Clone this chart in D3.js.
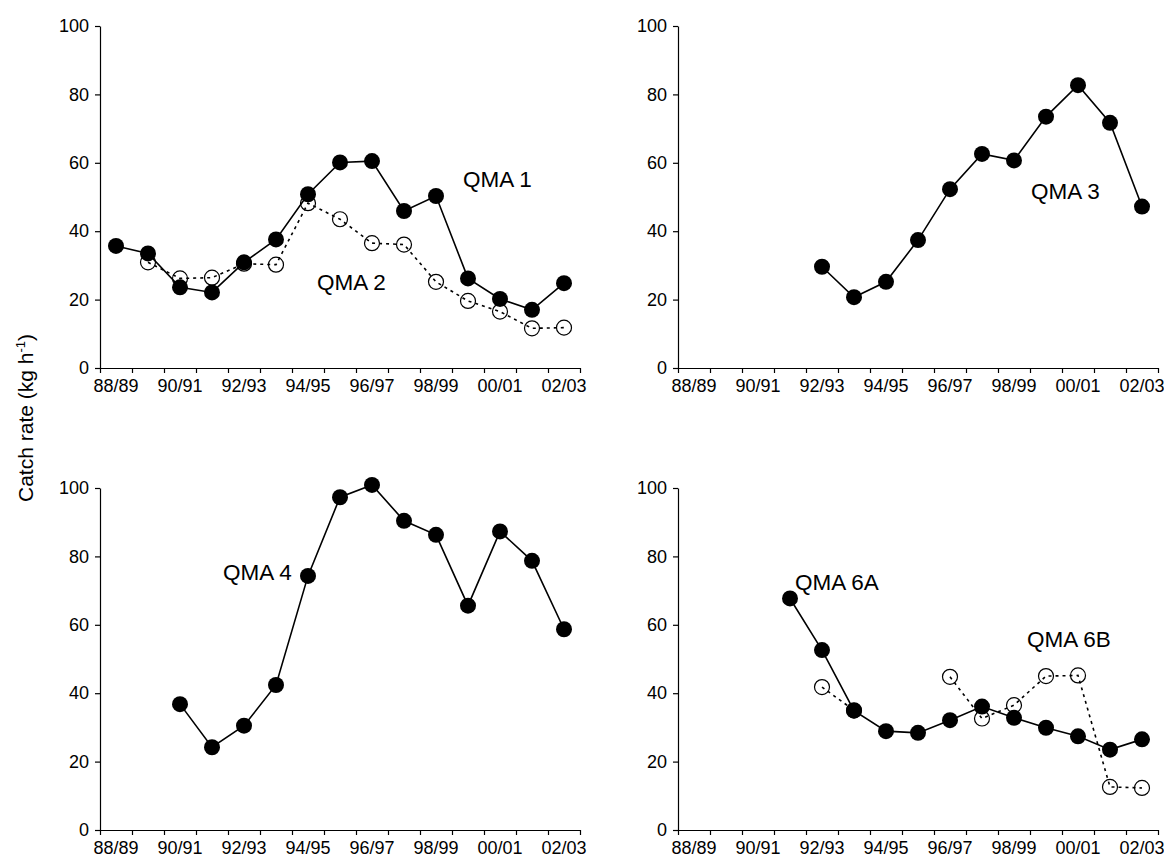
<!DOCTYPE html>
<html lang="en">
    <head>
        <title>Catch rate by QMA</title>
        <script src="https://d3js.org/d3.v7.min.js"></script>
        <style>
            body { margin: 0; background: #fff; }
            text { font-family: "Liberation Sans", Arial, sans-serif; fill: #000; }
        </style>
    </head>
    <body>
    <div id="mainDiv"></div>

        <script type="text/javascript">
            const seasons = ['88/89', '89/90', '90/91', '91/92', '92/93', '93/94', '94/95', '95/96',
                '96/97', '97/98', '98/99', '99/00', '00/01', '01/02', '02/03']
            const yTicks = [0, 20, 40, 60, 80, 100]

            const qma1 = [35.7, 33.5, 23.6, 22.1, 30.9, 37.6, 50.8, 60.1, 60.5, 45.9, 50.3, 26.2, 20.2, 17.0, 24.8]
            const qma2 = [null, 30.9, 26.2, 26.4, 30.5, 30.2, 48.2, 43.5, 36.5, 36.1, 25.2, 19.6, 16.5, 11.6, 11.8]
            const qma3 = [null, null, null, null, 29.6, 20.7, 25.2, 37.4, 52.3, 62.6, 60.7, 73.5, 82.7, 71.7, 47.2]
            const qma4 = [null, null, 36.8, 24.2, 30.5, 42.4, 74.3, 97.3, 100.9, 90.4, 86.3, 65.6, 87.3, 78.7, 58.7]
            const qma6A = [null, null, null, 67.7, 52.6, 34.9, 28.9, 28.4, 32.1, 36.1, 32.8, 29.9, 27.4, 23.5, 26.5]
            const qma6B = [null, null, null, null, 41.8, 35.0, null, null, 44.8, 32.6, 36.5, 45.0, 45.2, 12.6, 12.3]

            const width = 1164
            const height = 867

            const panels = [
                { left: 100, top: 26, filled: qma1, open: qma2,
                  labels: [{ text: 'QMA 1', x: 463, y: 187 }, { text: 'QMA 2', x: 317, y: 290 }] },
                { left: 678, top: 26, filled: qma3, open: null,
                  labels: [{ text: 'QMA 3', x: 1031, y: 199 }] },
                { left: 100, top: 488, filled: qma4, open: null,
                  labels: [{ text: 'QMA 4', x: 223, y: 580 }] },
                { left: 678, top: 488, filled: qma6A, open: qma6B,
                  labels: [{ text: 'QMA 6A', x: 795, y: 590 }, { text: 'QMA 6B', x: 1027, y: 647 }] }
            ]

            const plotW = 480
            const plotH = 342

            const svg = d3.select('#mainDiv').append('svg')
                .attr('width', width)
                .attr('height', height)

            const x = d3.scaleBand().domain(seasons).range([0, plotW]).paddingInner(0).paddingOuter(0)
            const xEdges = d3.scaleLinear().domain([0, seasons.length]).range([0, plotW])
            const y = d3.scaleLinear().domain([0, 100]).range([plotH, 0])

            const line = d3.line()
                .defined(d => d.v !== null)
                .x(d => x(d.s) + x.bandwidth() / 2)
                .y(d => y(d.v))

            function toPoints(values) {
                return seasons.map((s, i) => ({ s: s, v: values[i] }))
            }

            panels.forEach(p => {
                const g = svg.append('g').attr('transform', `translate(${p.left},${p.top})`)

                // y axis
                const yAxis = g.append('g')
                    .call(d3.axisLeft(y).tickValues(yTicks).tickSize(5).tickSizeOuter(0).tickPadding(6))
                yAxis.selectAll('text').style('font-size', '18px')

                // x axis boundary ticks
                g.append('g')
                    .attr('transform', `translate(0,${plotH})`)
                    .call(d3.axisBottom(xEdges).tickValues(d3.range(seasons.length + 1)).tickFormat('').tickSize(5).tickSizeOuter(0))

                // x labels, every other season
                const xLab = g.append('g')
                    .attr('transform', `translate(0,${plotH})`)
                    .call(d3.axisBottom(x).tickSize(0).tickPadding(11).tickFormat((d, i) => i % 2 === 0 ? d : ''))
                xLab.select('.domain').remove()
                xLab.selectAll('text').style('font-size', '18px')

                svg.selectAll('.domain, .tick line').attr('stroke', '#000').attr('stroke-width', 1.2)

                // open series first, filled series on top
                if (p.open) {
                    const pts = toPoints(p.open)
                    g.append('g').selectAll('circle')
                        .data(pts.filter(d => d.v !== null))
                        .join('circle')
                        .attr('cx', d => x(d.s) + x.bandwidth() / 2)
                        .attr('cy', d => y(d.v))
                        .attr('r', 7.5)
                        .attr('fill', '#fff')
                        .attr('stroke', '#000')
                        .attr('stroke-width', 1.2)
                    g.append('path')
                        .datum(pts)
                        .attr('d', line)
                        .attr('fill', 'none')
                        .attr('stroke', '#000')
                        .attr('stroke-width', 1.6)
                        .attr('stroke-dasharray', '3,4')
                }

                const fpts = toPoints(p.filled)
                g.append('path')
                    .datum(fpts)
                    .attr('d', line)
                    .attr('fill', 'none')
                    .attr('stroke', '#000')
                    .attr('stroke-width', 1.6)
                g.append('g').selectAll('circle')
                    .data(fpts.filter(d => d.v !== null))
                    .join('circle')
                    .attr('cx', d => x(d.s) + x.bandwidth() / 2)
                    .attr('cy', d => y(d.v))
                    .attr('r', 8)
                    .attr('fill', '#000')

                p.labels.forEach(l => {
                    svg.append('text')
                        .attr('x', l.x)
                        .attr('y', l.y)
                        .style('font-size', '22.5px')
                        .text(l.text)
                })
            })

            // y axis title
            const title = svg.append('text')
                .attr('transform', 'translate(33,418) rotate(-90)')
                .attr('text-anchor', 'middle')
                .style('font-size', '21px')
            title.append('tspan').text('Catch rate (kg h')
            title.append('tspan').attr('dy', -8).style('font-size', '13px').text('-1')
            title.append('tspan').attr('dy', 8).text(')')
        </script>
    </body>
</html>
